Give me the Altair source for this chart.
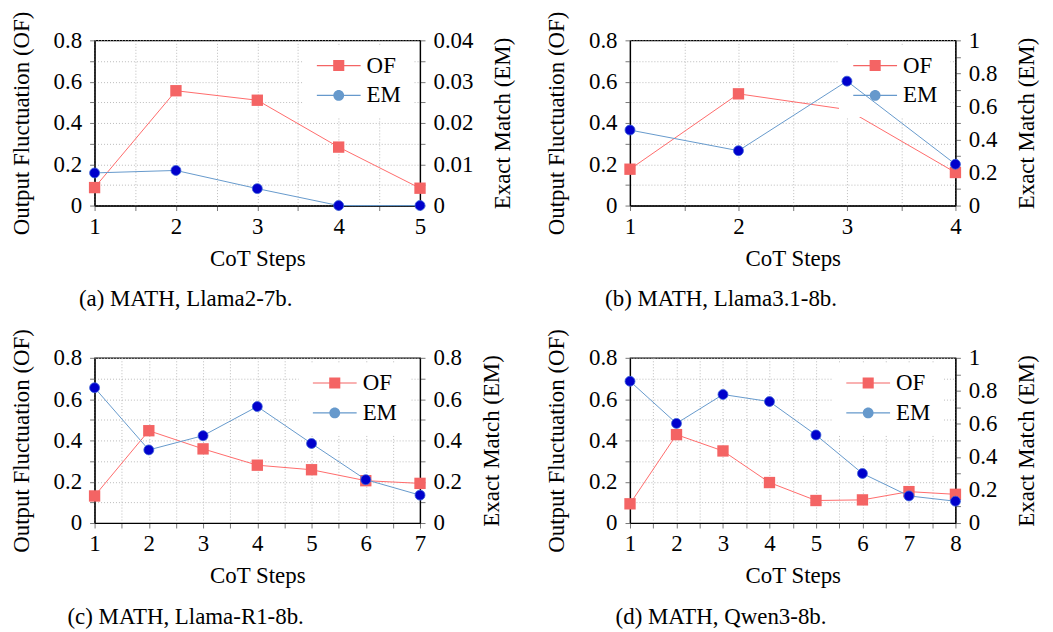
import altair as alt
import pandas as pd

# ---------------- data ----------------
steps_a = [1, 2, 3, 4, 5]
of_a = [0.087, 0.556, 0.510, 0.283, 0.084]
em_a = [0.0079, 0.0085, 0.0041, 0.0, 0.0]

steps_b = [1, 2, 3, 4]
of_b = [0.176, 0.541, 0.465, 0.160]
em_b = [0.457, 0.332, 0.753, 0.250]

steps_c = [1, 2, 3, 4, 5, 6, 7]
of_c = [0.131, 0.447, 0.359, 0.280, 0.258, 0.205, 0.192]
em_c = [0.655, 0.354, 0.423, 0.564, 0.385, 0.210, 0.135]

steps_d = [1, 2, 3, 4, 5, 6, 7, 8]
of_d = [0.093, 0.428, 0.349, 0.196, 0.109, 0.112, 0.152, 0.139]
em_d = [0.858, 0.603, 0.778, 0.735, 0.533, 0.300, 0.164, 0.132]

captions = ["(a) MATH, Llama2-7b.", "(b) MATH, Llama3.1-8b.",
            "(c) MATH, Llama-R1-8b.", "(d) MATH, Qwen3-8b."]
em_max = [0.04, 1.0, 0.8, 1.0]
em_major = [0.01, 0.2, 0.2, 0.2]
series = ["OF", "EM"]

# ---------------- style ----------------
FONT = "'Liberation Serif', 'Times New Roman', Times, 'DejaVu Serif', serif"
FS = 23
OF_LINE = "#ff6b6b"
OF_MARK = "#f46464"
EM_LINE = "#6699cc"
EM_MARK = "#0000cc"

PATH_OF = ("M-1.5,-0.04L1.5,-0.04L1.5,0.04L-1.5,0.04Z "
           "M-0.38,-0.38L0.38,-0.38L0.38,0.38L-0.38,0.38Z")
PATH_EM = ("M-1.5,-0.04L1.5,-0.04L1.5,0.04L-1.5,0.04Z "
           "M0.37,0A0.37,0.37,0,1,1,-0.37,0A0.37,0.37,0,1,1,0.37,0Z")
SYM = 860
HALF = (SYM ** 0.5) / 2


def ticks(lo, hi, step):
    n = int(round((hi - lo) / step))
    return [round(lo + i * step, 6) for i in range(n + 1)]


def label_expr(step):
    return (f"abs(datum.value/{step} - round(datum.value/{step})) < 0.001 "
            f"? format(datum.value, '~g') : ''")


def panel(steps, of, em, emax, emajor, caption, leg_x, leg_y=25):
    df = pd.DataFrame({"step": steps, "OF": of, "EM": em})
    n = max(steps)
    xenc = alt.X("step:Q",
                 scale=alt.Scale(domain=[1, n], nice=False, zero=False),
                 axis=alt.Axis(values=ticks(1, n, 0.5), labelExpr=label_expr(1),
                               title="CoT Steps", grid=True, titlePadding=9,
                               labelPadding=5))
    of_layer = alt.Chart(df).mark_line(
        color=OF_LINE, strokeWidth=1,
        point=alt.OverlayMarkDef(shape="square", size=130, filled=True,
                                 color=OF_MARK, opacity=1)
    ).encode(
        x=xenc,
        y=alt.Y("OF:Q", scale=alt.Scale(domain=[0, 0.8], nice=False),
                axis=alt.Axis(orient="left", values=ticks(0, 0.8, 0.1),
                              labelExpr=label_expr(0.2),
                              title="Output Fluctuation (OF)", grid=True,
                              titlePadding=20)),
    )
    box = alt.Chart(pd.DataFrame({"k": [0]})).mark_rect(color="white").encode(
        x=alt.value(leg_x - 36), x2=alt.value(leg_x + 76),
        y=alt.value(6), y2=alt.value(77))
    em_layer = alt.Chart(df).mark_line(
        color=EM_LINE, strokeWidth=1,
        point=alt.OverlayMarkDef(shape="circle", size=100, filled=True,
                                 fill=EM_MARK, stroke="#3d62d8",
                                 strokeWidth=0.8, opacity=1)
    ).encode(
        x=xenc,
        y=alt.Y("EM:Q", scale=alt.Scale(domain=[0, emax], nice=False),
                axis=alt.Axis(orient="right", values=ticks(0, emax, emajor / 2),
                              labelExpr=label_expr(emajor),
                              title="Exact Match (EM)", grid=False,
                              titleAngle=270, titleBaseline="top",
                              titlePadding=19)),
    )
    leg_def = alt.Legend(title=None, orient="none", direction="vertical",
                         legendX=leg_x - HALF, legendY=leg_y - HALF)
    leg = alt.Chart(df).transform_fold(series, as_=["series", "v"]).transform_filter(
        "false").mark_point(filled=True, opacity=1).encode(
        color=alt.Color("series:N",
                        scale=alt.Scale(domain=series, range=[OF_MARK, EM_LINE]),
                        legend=leg_def),
        shape=alt.Shape("series:N",
                        scale=alt.Scale(domain=series, range=[PATH_OF, PATH_EM]),
                        legend=leg_def),
    )
    return alt.layer(of_layer, box, em_layer, leg).resolve_scale(
        y="independent").properties(
        width=327, height=166,
        title=alt.TitleParams(caption, orient="bottom", anchor="middle",
                              frame="group", dx=-72, offset=18, font=FONT,
                              fontSize=FS, fontWeight="normal", color="black"))


pa = panel(steps_a, of_a, em_a, em_max[0], em_major[0], captions[0], 245)
pb = panel(steps_b, of_b, em_b, em_max[1], em_major[1], captions[1], 246)
pc = panel(steps_c, of_c, em_c, em_max[2], em_major[2], captions[2], 241)
pdd = panel(steps_d, of_d, em_d, em_max[3], em_major[3], captions[3], 239)

chart = alt.concat(
    pa, pb, pc, pdd, columns=2,
    spacing=alt.RowColnumber(row=153, column=211), bounds="flush"
).resolve_scale(
    x="independent", y="independent", color="independent", shape="independent"
).resolve_legend(
    color="independent", shape="independent"
).properties(
    padding={"left": 1, "top": 0, "right": 5, "bottom": 0}
).configure(
    font=FONT
).configure_axis(
    labelFont=FONT, labelFontSize=FS, labelColor="black",
    titleFont=FONT, titleFontSize=FS, titleFontWeight="normal", titleColor="black",
    domainColor="black", domainWidth=1.2,
    tickColor="#777777", tickSize=5, tickWidth=1,
    labelPadding=8, labelFlush=False, labelOverlap=False,
    gridColor="#bbbbbb", gridDash=[1, 2], gridWidth=1,
).configure_view(
    stroke="black", strokeWidth=1.2
).configure_legend(
    labelFont=FONT, labelFontSize=FS, labelColor="black",
    symbolSize=SYM, symbolStrokeWidth=0, labelOffset=13, rowPadding=3,
    padding=0,
)

chart.save("out.html", embed_options={"renderer": "svg", "actions": False})
